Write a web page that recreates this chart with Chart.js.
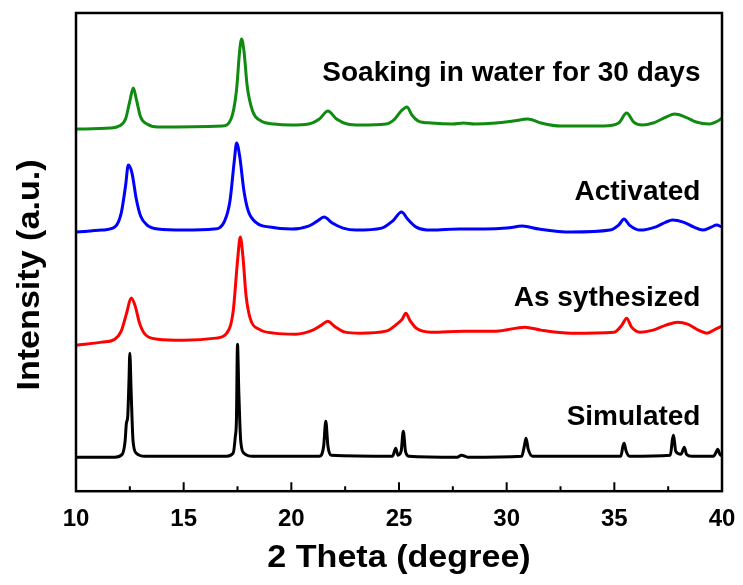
<!DOCTYPE html>
<html>
<head>
<meta charset="utf-8">
<script src="https://cdn.jsdelivr.net/npm/chart.js@4.4.1/dist/chart.umd.min.js"></script>
<style>
  body { margin: 0; background: #fff; }
  canvas { display: block; }
</style>
</head>
<body>
<canvas id="xrdChart" width="743" height="585"></canvas>
<script>
// x range and tick marks (2 theta, degree)
const xMajor = [10, 15, 20, 25, 30, 35, 40];
const xMinor = [12.5, 17.5, 22.5, 27.5, 32.5, 37.5];

// Simulated pattern (black)
const simX = [10, 11.8, 12.15, 12.28, 12.34, 12.4, 12.46, 12.5, 12.56, 12.65, 12.8, 13.2, 17.0, 17.3, 17.4, 17.45, 17.5, 17.56, 17.65, 17.8, 18.2,
  21.3, 21.5, 21.6, 21.7, 21.85, 24.7, 24.85, 24.95, 25.1, 25.2, 25.3, 25.45, 27.7, 27.9, 28.2, 30.7, 30.82, 30.9, 31.0, 31.2,
  35.3, 35.4, 35.45, 35.55, 35.7, 37.6, 37.7, 37.75, 37.85, 38.1, 38.25, 38.35, 38.6, 39.6, 39.75, 39.8, 39.9, 40];
const simY = [34, 34, 37, 50, 68, 74, 110, 138, 100, 50, 38, 35, 35, 38, 55, 71, 147, 100, 50, 38, 35,
  35, 45, 70, 45, 36, 35, 43, 36, 40, 60, 40, 35, 34, 36, 34, 35, 45, 53, 42, 35,
  35, 45, 48, 40, 35, 36, 52, 56, 40, 37, 44, 37, 35, 35, 40, 42, 37, 35];

// As synthesized (red)
const asX = [10, 11.2, 11.8, 12.1, 12.35, 12.56, 12.75, 12.95, 13.2, 13.8, 15, 16.5, 17.0, 17.3, 17.5, 17.63, 17.75, 17.9, 18.1, 18.5, 19.2,
  20.2, 21.0, 21.4, 21.69, 22.0, 22.5, 23.2, 24.4, 24.9, 25.15, 25.32, 25.5, 25.8, 26.5, 28, 29.5, 30.85, 31.6, 33,
  35.0, 35.35, 35.57, 35.8, 36.2, 36.8, 37.4, 37.95, 38.4, 38.9, 39.3, 39.7, 40];
const asY = [146, 149, 152, 160, 178, 193, 185, 168, 157, 152, 151, 153, 158, 180, 230, 254, 235, 195, 172, 162, 158,
  157, 161, 166, 170, 165, 159, 158, 160, 167, 172, 178, 171, 163, 159, 160, 160, 164, 161, 158,
  159, 166, 173, 164, 159, 161, 166, 169, 167, 161, 158, 162, 165];

// Activated (blue)
const actX = [10, 11.2, 11.8, 12.1, 12.3, 12.43, 12.6, 12.8, 13.0, 13.3, 13.8, 15, 16.4, 16.9, 17.15, 17.35, 17.46, 17.6, 17.8, 18.0, 18.4, 19,
  20, 20.8, 21.2, 21.52, 21.9, 22.4, 23, 24.2, 24.7, 25.12, 25.4, 25.8, 26.5, 27.8, 29, 30, 30.73, 31.5, 33,
  34.8, 35.2, 35.45, 35.7, 36.2, 36.9, 37.4, 37.7, 38.2, 38.7, 39.1, 39.5, 39.75, 40];
const actY = [259, 261, 264, 278, 305, 326, 318, 292, 275, 266, 262, 261, 262, 270, 290, 330, 348, 335, 300, 280, 268, 264,
  262, 265, 270, 274, 268, 263, 261, 263, 270, 279, 272, 264, 261, 262, 262, 263, 265, 262, 259,
  261, 266, 272, 266, 261, 264, 269, 271, 269, 264, 261, 264, 266, 264];

// Soaking in water for 30 days (green)
const soakX = [10, 11.6, 12.0, 12.3, 12.5, 12.66, 12.8, 13.0, 13.3, 13.8, 16.8, 17.2, 17.45, 17.6, 17.69, 17.8, 17.95, 18.2, 18.6, 19.2,
  20, 20.8, 21.3, 21.7, 22.1, 22.6, 23.2, 24.4, 24.8, 25.1, 25.37, 25.6, 25.9, 26.5, 27.5, 28.0, 28.5, 29.5, 30.3, 30.98, 31.6, 32.5,
  34.5, 35.2, 35.57, 35.9, 36.3, 36.8, 37.4, 37.8, 38.3, 38.8, 39.4, 39.8, 40];
const soakY = [362, 363, 365, 372, 390, 403, 392, 374, 367, 364, 365, 372, 400, 440, 452, 440, 405, 380, 370, 367,
  366, 367, 372, 380, 372, 367, 366, 367, 372, 380, 384, 376, 370, 368, 367, 368, 367, 368, 370, 372, 368, 365,
  365, 368, 378, 369, 366, 368, 374, 377, 374, 369, 367, 370, 373];

// curve labels
const labelText = ['Soaking in water for 30 days', 'Activated', 'As sythesized', 'Simulated'];
const labelX = [39.0, 39.0, 39.0, 39.0];
const labelY = [418, 299, 193, 74];

function toPoints(xs, ys) {
  return xs.map((x, i) => ({ x: x, y: ys[i] }));
}

function makeSet(name, xs, ys, color) {
  return {
    label: name,
    data: toPoints(xs, ys),
    borderColor: color,
    borderWidth: 3,
    pointRadius: 0,
    fill: false,
    cubicInterpolationMode: 'monotone'
  };
}

const FONT = "'Liberation Sans', Arial, sans-serif";

// draw text, optionally stretched horizontally
function drawText(ctx, text, x, y, size, align, sx, rot) {
  ctx.save();
  ctx.translate(x, y);
  if (rot) ctx.rotate(rot);
  ctx.scale(sx, 1);
  ctx.font = 'bold ' + size + 'px ' + FONT;
  ctx.fillStyle = '#000';
  ctx.textAlign = align;
  ctx.textBaseline = 'middle';
  ctx.fillText(text, 0, 0);
  ctx.restore();
}

const framePlugin = {
  id: 'frame',
  afterDraw(chart) {
    const ctx = chart.ctx;
    const a = chart.chartArea;
    const xs = chart.scales.x;
    const ys = chart.scales.y;

    ctx.save();
    ctx.strokeStyle = '#000';
    ctx.lineWidth = 2.5;
    ctx.strokeRect(a.left, a.top, a.right - a.left, a.bottom - a.top);

    // inward ticks on the bottom axis
    ctx.lineWidth = 2;
    ctx.beginPath();
    xMajor.forEach(v => {
      const px = xs.getPixelForValue(v);
      ctx.moveTo(px, a.bottom);
      ctx.lineTo(px, a.bottom - 9);
    });
    xMinor.forEach(v => {
      const px = xs.getPixelForValue(v);
      ctx.moveTo(px, a.bottom);
      ctx.lineTo(px, a.bottom - 5);
    });
    ctx.stroke();
    ctx.restore();

    // curve labels
    labelText.forEach((t, i) => {
      drawText(ctx, t, xs.getPixelForValue(labelX[i]), ys.getPixelForValue(labelY[i]), 28, 'right', 1, 0);
    });

    // axis titles
    drawText(ctx, '2 Theta (degree)', (a.left + a.right) / 2, 558, 31, 'center', 1.1, 0);
    drawText(ctx, 'Intensity (a.u.)', 30, 275, 31, 'center', 1.1, -Math.PI / 2);
  }
};

const ctx = document.getElementById('xrdChart').getContext('2d');
const xrdChart = new Chart(ctx, {
  type: 'line',
  data: {
    datasets: [
      makeSet('Simulated', simX, simY, '#000000'),
      makeSet('As sythesized', asX, asY, '#ff0000'),
      makeSet('Activated', actX, actY, '#0000ff'),
      makeSet('Soaking in water for 30 days', soakX, soakY, '#108a10')
    ]
  },
  options: {
    responsive: false,
    animation: false,
    devicePixelRatio: 1,
    layout: {
      padding: { left: 76, right: 21, top: 13, bottom: 45 }
    },
    scales: {
      x: {
        type: 'linear',
        min: 10,
        max: 40,
        grid: { display: false },
        border: { display: false },
        afterBuildTicks: (scale) => {
          scale.ticks = xMajor.map(v => ({ value: v }));
        },
        ticks: {
          padding: 6,
          color: '#000',
          maxRotation: 0,
          font: { family: FONT, size: 24, weight: 'bold' }
        }
      },
      y: {
        type: 'linear',
        min: 0,
        max: 478,
        display: false
      }
    },
    plugins: {
      legend: { display: false },
      tooltip: { enabled: false }
    }
  },
  plugins: [framePlugin]
});
</script>
</body>
</html>
